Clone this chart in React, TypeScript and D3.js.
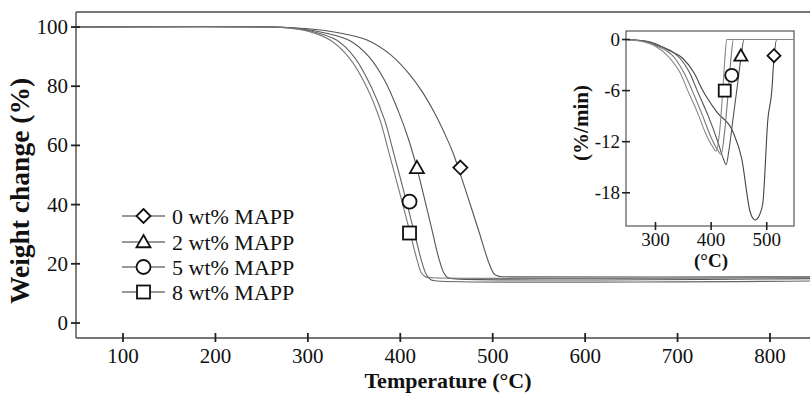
import React from "react";
import * as d3 from "d3";

// ---------- data ----------
const seriesNames = ["0 wt% MAPP", "2 wt% MAPP", "5 wt% MAPP", "8 wt% MAPP"];
const markerKinds = ["diamond", "triangle", "circle", "square"];

// TGA curves: [temperature °C, weight %]
const tga0: [number, number][] = [[50,100],[260,100],[300,99.4],[330,98.2],[364,95.6],[390,90.5],[410,84],[424,78],[437,71],[448,64],[457,57.5],[470,45.5],[485,31],[496,20.2],[502,16.4],[508,15.7],[515,15.6],[850,15.6]];
const tga2: [number, number][] = [[50,100],[260,100],[290,99.5],[320,97.9],[346,95.3],[366,90],[383,82],[398,71.5],[409,62],[417,53.5],[425,43.5],[435,30.5],[442,21.5],[447,17],[451,15.4],[457,15.0],[850,15.0]];
const tga5: [number, number][] = [[50,100],[255,100],[280,99.7],[305,98.5],[331,95.6],[351,89.5],[369,79.5],[383,68.6],[392,58.4],[405,43],[416,29.5],[423,21],[428,16.5],[433,14.6],[440,14.2],[850,14.2]];
const tga8: [number, number][] = [[50,100],[250,100],[275,99.8],[300,98.6],[324,95.6],[345,89.5],[364,79.5],[378,68.6],[387,58.4],[400,43.2],[411,30],[418,21.5],[423,16.8],[428,15.5],[435,15.3],[850,15.3]];
const tgaSeries = [tga0, tga2, tga5, tga8];
// marker positions beside the TGA curves
const tgaMarkerT = [465, 418, 410, 410];
const tgaMarkerW = [52.5, 52.4, 41, 30.4];

// DTG curves (inset): [temperature °C, rate %/min]
const dtg0: [number, number][] = [[247,0],[280,-0.15],[300,-0.5],[325,-1.3],[349,-2.2],[370,-4],[385,-6],[410,-8.5],[439,-10.8],[455,-14],[470,-20.2],[479,-21.2],[487,-20.6],[493,-19.2],[502,-9.4],[509,-6.1],[513,-2.2],[518,0],[549,0]];
const dtg2: [number, number][] = [[247,0],[280,-0.2],[300,-0.6],[344,-2.2],[362,-4],[375,-6],[395,-9],[412,-12],[422,-14],[427,-14.7],[432,-13],[440,-9],[448,-5],[454,-2],[459,0],[549,0]];
const dtg5: [number, number][] = [[247,0],[280,-0.25],[300,-0.7],[335,-2.2],[352,-4],[366,-6],[385,-9],[400,-11.5],[412,-13],[418,-13.5],[424,-11],[431,-6],[436,-2],[440,0],[549,0]];
const dtg8: [number, number][] = [[247,0],[280,-0.3],[300,-0.8],[326,-2.2],[345,-4],[358,-6],[375,-8.5],[390,-11],[402,-12.5],[409,-13.1],[415,-11],[421,-6],[425,-2],[428,0],[549,0]];
const dtgSeries = [dtg0, dtg2, dtg5, dtg8];
const dtgMarkerT = [513, 453.5, 437, 424.5];
const dtgMarkerV = [-1.9, -1.9, -4.2, -6.0];

const xTicks = [100, 200, 300, 400, 500, 600, 700, 800];
const yTicks = [0, 20, 40, 60, 80, 100];
const insetXTicks = [300, 400, 500];
const insetYTicks = [0, -6, -12, -18];

// ---------- styling ----------
const FONT = "'Liberation Serif', 'Times New Roman', Times, serif";
const AX = "#4a4a4a";
const tgaColors = ["#555", "#555", "#666", "#777"];
const dtgColors = ["#444", "#555", "#777", "#888"];
const txt = { fontFamily: FONT };

function Marker({ kind, x, y, s = 7 }: { kind: string; x: number; y: number; s?: number }) {
  const common = { fill: "white", stroke: "#111", strokeWidth: 1.8 };
  if (kind === "circle") return <circle cx={x} cy={y} r={s} {...common} />;
  if (kind === "square") return <rect x={x - s + 0.5} y={y - s + 0.5} width={2 * s - 1} height={2 * s - 1} {...common} />;
  if (kind === "triangle")
    return <path d={`M${x},${y - s}L${x + s},${y + s * 0.75}L${x - s},${y + s * 0.75}Z`} {...common} />;
  return <path d={`M${x},${y - s}L${x + s},${y}L${x},${y + s}L${x - s},${y}Z`} {...common} />;
}

export default function App() {
  const W = 810, H = 395;
  const x = d3.scaleLinear().domain([50, 850]).range([76.8, 816.2]);
  const y = d3.scaleLinear().domain([-5, 105]).range([337.8, 12.2]);
  const left = 76, top = 12, bottom = 338;

  const line = d3.line<[number, number]>().x(d => x(d[0])).y(d => y(d[1])).curve(d3.curveCatmullRom.alpha(0.5));

  const ix = d3.scaleLinear().domain([247, 549]).range([626, 794]);
  const iy = d3.scaleLinear().domain([-21.9, 1.0]).range([226, 31]);
  const iline = d3.line<[number, number]>().x(d => ix(d[0])).y(d => iy(d[1])).curve(d3.curveMonotoneX);

  const legendY = [216, 242, 267, 292];

  return (
    <svg width={W} height={H} style={{ position: "absolute", left: 0, top: 0, background: "white", fontFamily: FONT }}>
      {/* main curves */}
      <g fill="none">
        {tgaSeries.map((s, i) => (
          <path key={i} d={line(s) || ""} stroke={tgaColors[i]} strokeWidth={1.1} />
        ))}
      </g>
      {/* axes */}
      <line x1={left} x2={W} y1={top} y2={top} stroke={AX} strokeWidth={1.4} />
      <line x1={left} x2={left} y1={top} y2={bottom} stroke={AX} strokeWidth={1.4} />
      <line x1={left} x2={W} y1={bottom} y2={bottom} stroke={AX} strokeWidth={1.4} />
      {xTicks.map(t => (
        <g key={t}>
          <line x1={x(t)} x2={x(t)} y1={bottom - 5} y2={bottom + 4} stroke="#222" strokeWidth={1.8} />
          <text style={txt} x={x(t)} y={363} fontSize={21} textAnchor="middle" fill="#111">{t}</text>
        </g>
      ))}
      {yTicks.map(t => (
        <g key={t}>
          <line x1={left - 5} x2={left + 4} y1={y(t)} y2={y(t)} stroke="#222" strokeWidth={1.8} />
          <text style={txt} x={68} y={y(t) + 7} fontSize={21} textAnchor="end" fill="#111">{t}</text>
        </g>
      ))}
      <text style={txt} x={448} y={388} fontSize={22} fontWeight="bold" textAnchor="middle" fill="#111">Temperature (°C)</text>
      <text style={txt} transform="translate(29,191) rotate(-90)" fontSize={27.5} fontWeight="bold" textAnchor="middle" fill="#111">Weight change (%)</text>

      {/* main markers */}
      {tgaMarkerT.map((t, i) => (
        <Marker key={i} kind={markerKinds[i]} x={x(t)} y={y(tgaMarkerW[i])} />
      ))}

      {/* legend */}
      {seriesNames.map((n, i) => (
        <g key={n}>
          <line x1={122} x2={165} y1={legendY[i]} y2={legendY[i]} stroke="#333" strokeWidth={1.2} />
          <Marker kind={markerKinds[i]} x={143.5} y={legendY[i]} />
          <text style={txt} x={172} y={legendY[i] + 7.5} fontSize={22} fill="#111">{n}</text>
        </g>
      ))}

      {/* inset */}
      <rect x={626} y={31} width={168} height={195} fill="white" stroke="#555" strokeWidth={1.2} />
      <g fill="none">
        {dtgSeries.map((s, i) => (
          <path key={i} d={iline(s) || ""} stroke={dtgColors[i]} strokeWidth={1.1} />
        ))}
      </g>
      {insetYTicks.map(t => (
        <g key={t}>
          <line x1={622} x2={630} y1={iy(t)} y2={iy(t)} stroke="#222" strokeWidth={1.6} />
          <text style={txt} x={620} y={iy(t) + 6.5} fontSize={19} textAnchor="end" fill="#111">{t}</text>
        </g>
      ))}
      {insetXTicks.map(t => (
        <g key={t}>
          <line x1={ix(t)} x2={ix(t)} y1={222} y2={230} stroke="#222" strokeWidth={1.6} />
          <text style={txt} x={ix(t)} y={246} fontSize={19} textAnchor="middle" fill="#111">{t}</text>
        </g>
      ))}
      <text style={txt} x={711} y={267} fontSize={19} fontWeight="bold" textAnchor="middle" fill="#111">(°C)</text>
      <text style={txt} transform="translate(588,123) rotate(-90)" fontSize={21} fontWeight="bold" textAnchor="middle" fill="#111">(%/min)</text>
      {dtgMarkerT.map((t, i) => (
        <Marker key={i} kind={markerKinds[i]} x={ix(t)} y={iy(dtgMarkerV[i])} s={6.5} />
      ))}
    </svg>
  );
}
